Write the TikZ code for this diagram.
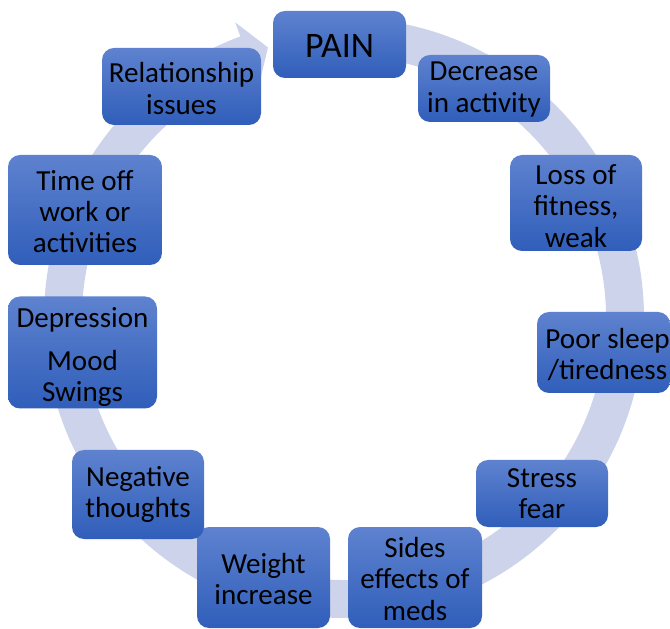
\documentclass[tikz,border=0pt]{standalone}
\usepackage{fontspec}
\setmainfont{Carlito}
\usetikzlibrary{calc}
\definecolor{bandc}{RGB}{205,211,235}
\definecolor{boxtop}{RGB}{94,130,207}
\definecolor{boxbot}{RGB}{48,94,186}
\begin{document}
\begin{tikzpicture}[x=0.75pt,y=0.75pt,
  card/.style={rounded corners=9pt, top color=boxtop, bottom color=boxbot,
    draw=none, inner sep=0pt},
  lbl/.style={align=center, inner sep=0pt, text=black,
    font=\fontsize{21.8}{23.5}\selectfont},
  band/.style={fill=bandc, draw=none}]
\clip (0,0) rectangle (670,628);
\useasboundingbox (0,0) rectangle (670,628);
\coordinate (C) at (344,310);
\fill[band] ($(C)+(92:300)$) arc[start angle=92,end angle=-249.8,radius=300]
  -- ($(C)+(110.2:315)$) -- ($(C)+(105.7:281)$) -- ($(C)+(110.2:247)$)
  -- ($(C)+(110.2:262)$) arc[start angle=110.2,end angle=452,radius=262] -- cycle;
\node[card, minimum width=99.75pt, minimum height=50.25pt] (pain) at (339.5,583.5) {};
\node[card, minimum width=99pt, minimum height=50.25pt] (dec) at (484,539.5) {};
\node[card, minimum width=99pt, minimum height=72pt] (loss) at (576,425) {};
\node[card, minimum width=99.75pt, minimum height=60.75pt] (sleep) at (603.5,275.5) {};
\node[card, minimum width=99pt, minimum height=50.25pt] (stress) at (542,134.5) {};
\node[card, minimum width=100.5pt, minimum height=75.75pt] (meds) at (415,50.5) {};
\node[card, minimum width=99.75pt, minimum height=75.75pt] (weight) at (263.5,50.5) {};
\node[card, minimum width=99pt, minimum height=66.75pt] (neg) at (138,133.5) {};
\node[card, minimum width=111.75pt, minimum height=84pt] (dep) at (82.5,275.5) {};
\node[card, minimum width=115.5pt, minimum height=82.5pt] (time) at (85,418) {};
\node[card, minimum width=119.25pt, minimum height=57.75pt] (rel) at (181.5,541.5) {};
\node[lbl, font=\fontsize{26.9}{28}\selectfont] (paint) at ($(pain)+(0,-1.5)$) {PAIN};
\node[lbl] (dect) at ($(dec)+(0,-1)$) {Decrease\\in activity};
\node[lbl] (losst) at ($(loss)+(0,-3)$) {Loss of\\fitness,\\weak};
\node[lbl] (sleept) at ($(sleep)+(4,-2)$) {Poor sleep\\/tiredness};
\node[lbl] (stresst) at ($(stress)+(0,0)$) {Stress\\fear};
\node[lbl] (medst) at ($(meds)+(0,-1.5)$) {Sides\\effects of\\meds};
\node[lbl] (weightt) at ($(weight)+(0,-1.5)$) {Weight\\increase};
\node[lbl] (negt) at ($(neg)+(0,0)$) {Negative\\thoughts};
\node[lbl] (dept) at ($(dep)+(0,-4.5)$) {Depression\\[9pt]Mood\\Swings};
\node[lbl] (timet) at ($(time)+(0,-1.5)$) {Time off\\work or\\activities};
\node[lbl] (relt) at ($(rel)+(0,-2)$) {Relationship\\issues};
\end{tikzpicture}
\end{document}
